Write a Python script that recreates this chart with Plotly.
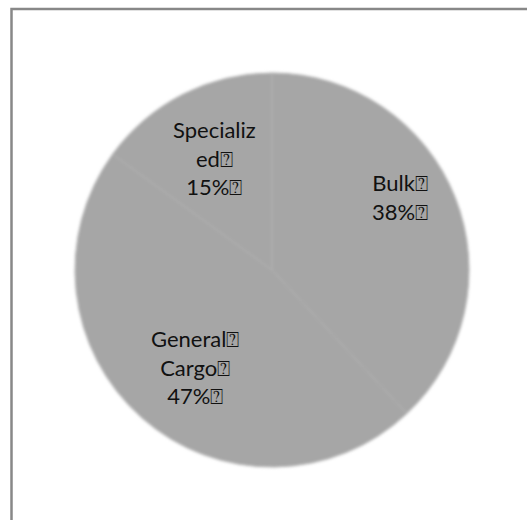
import math
import plotly.graph_objects as go

# Cargo mix by segment
categories = ["Bulk", "General Cargo", "Specialized"]
shares = [38, 47, 15]
# label text as wrapped in the slice (each line ends with a control glyph)
wrapped_names = ["Bulk⍰", "General⍰<br>Cargo⍰", "Specializ<br>ed⍰"]

W, H = 527, 520
CX, CY, R = 272, 270, 197          # pie centre and radius, px
LABEL_RADIUS = [0.75, 0.63, 0.64]  # label distance from centre, fraction of R
LABEL_TURN = [-8, -3, 0]           # small angular nudge of each label, degrees

fig = go.Figure(
    go.Pie(
        labels=categories,
        values=shares,
        sort=False,
        direction="clockwise",
        rotation=0,
        textinfo="none",
        hoverinfo="label+percent",
        marker=dict(
            colors=["#a6a6a6"] * len(categories),
            line=dict(color="#b1b1b1", width=1),
        ),
        domain=dict(
            x=[(CX - R) / W, (CX + R) / W],
            y=[1 - (CY + R) / H, 1 - (CY - R) / H],
        ),
        showlegend=False,
    )
)

# Slice labels centred on each slice's bisector
total = sum(shares)
start = 0.0
for name, val, rf, turn in zip(wrapped_names, shares, LABEL_RADIUS, LABEL_TURN):
    mid = (start + val / 2) / total * 360 + turn
    start += val
    x = CX + rf * R * math.sin(math.radians(mid))
    y = CY - rf * R * math.cos(math.radians(mid))
    pct = round(val / total * 100)
    fig.add_annotation(
        x=x / W, y=1 - y / H, xref="paper", yref="paper",
        xanchor="center", yanchor="middle",
        text=f"{name}<br>{pct}%⍰",
        showarrow=False, align="center",
        font=dict(family="Lato, Carlito, sans-serif", size=22, color="#111111"),
    )

# Chart-area frame
fig.add_shape(
    type="rect", xref="paper", yref="paper",
    x0=11.5 / W, x1=1.05, y0=-0.05, y1=1 - 9 / H,
    line=dict(color="#888888", width=2.5), fillcolor="rgba(0,0,0,0)",
)

fig.update_layout(
    width=W, height=H,
    margin=dict(l=0, r=0, t=0, b=0),
    paper_bgcolor="white", plot_bgcolor="white",
)

# Soften the pie outline slightly
soften = """
var gd = document.querySelector('.js-plotly-plot');
var svg = gd.querySelector('svg.main-svg');
var ns = 'http://www.w3.org/2000/svg';
var defs = svg.querySelector('defs') || svg.insertBefore(document.createElementNS(ns, 'defs'), svg.firstChild);
var f = document.createElementNS(ns, 'filter');
f.setAttribute('id', 'pie-soft');
f.setAttribute('x', '-10%'); f.setAttribute('y', '-10%');
f.setAttribute('width', '120%'); f.setAttribute('height', '120%');
var b = document.createElementNS(ns, 'feGaussianBlur');
b.setAttribute('stdDeviation', '1.5');
f.appendChild(b); defs.appendChild(f);
gd.querySelectorAll('.pielayer .trace').forEach(function (t) { t.setAttribute('filter', 'url(#pie-soft)'); });
"""

fig.write_html("out.html", post_script=soften)
